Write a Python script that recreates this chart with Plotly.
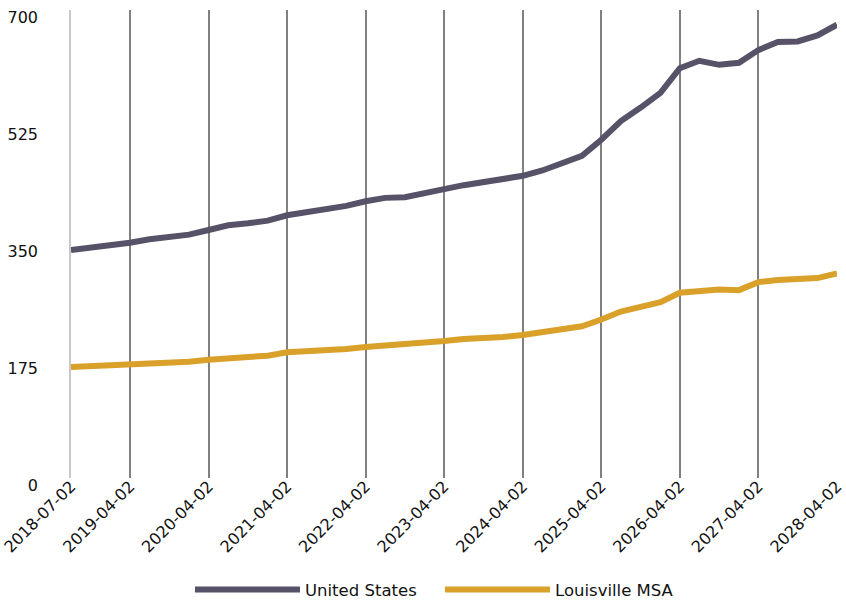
import plotly.graph_objects as go

# Quarterly dates 2018-07-02 .. 2028-04-02
dates = []
for yr in range(2018, 2029):
    for mo in (1, 4, 7, 10):
        d = f"{yr}-{mo:02d}-02"
        if "2018-07-02" <= d <= "2028-04-02":
            dates.append(d)

us_values = [341, 344, 348, 352, 357, 361, 364, 371, 378, 381,
             385, 393, 398, 401, 407, 414, 419, 420, 425, 432,
             438, 442, 447, 452, 460, 470, 482, 506, 534, 554,
             576, 613, 624, 618, 621, 640, 652, 653, 662, 678]

louisville_values = [166, 167, 168, 171, 172, 173, 174, 177, 179, 181,
                     183, 188, 189, 191, 193, 196, 198, 200, 201, 205,
                     208, 209, 211, 214, 218, 224, 227, 237, 249, 256,
                     263, 277, 280, 282, 281, 293, 296, 297, 299, 306]

x_ticks = ["2018-07-02", "2019-04-02", "2020-04-02", "2021-04-02", "2022-04-02",
           "2023-04-02", "2024-04-02", "2025-04-02", "2026-04-02", "2027-04-02",
           "2028-04-02"]
y_ticks = [0, 175, 350, 525, 700]

US_COLOR = "#575267"
LOU_COLOR = "#D9A02A"
FONT = "DejaVu Sans, Lato, sans-serif"

fig = go.Figure()
fig.add_trace(go.Scatter(x=dates, y=us_values, mode="lines", name="United States",
                         line=dict(color=US_COLOR, width=6)))
fig.add_trace(go.Scatter(x=dates, y=louisville_values, mode="lines", name="Louisville MSA",
                         line=dict(color=LOU_COLOR, width=6)))

fig.update_layout(
    width=846, height=602,
    margin=dict(l=71, r=9, t=10, b=124, autoexpand=False),
    plot_bgcolor="white", paper_bgcolor="white",
    font=dict(family=FONT, size=15, color="#111111"),
    showlegend=True,
    legend=dict(orientation="h", x=(190 - 71) / 766, xanchor="left", y=-0.239, yanchor="middle",
                itemwidth=105, entrywidth=130,
                font=dict(family=FONT, size=16.5, color="#111")),
    xaxis=dict(type="date", range=[dates[0], dates[-1]], tickvals=x_ticks, ticktext=x_ticks,
               tickangle=-45, showgrid=True, gridcolor="#808080", gridwidth=1.5,
               showline=False, zeroline=False, ticks="", automargin=False,
               ticklabelstandoff=-5,
               tickfont=dict(family=FONT, size=16, color="#111")),
    yaxis=dict(range=[0, 700], tickvals=y_ticks, showgrid=False, zeroline=False,
               showline=True, linecolor="#c8c8c8", linewidth=1.5, ticks="", automargin=False,
               ticklabelstandoff=28, ticklabelshift=7,
               tickfont=dict(family=FONT, size=16, color="#111")),
)

fig.write_html("out.html")
